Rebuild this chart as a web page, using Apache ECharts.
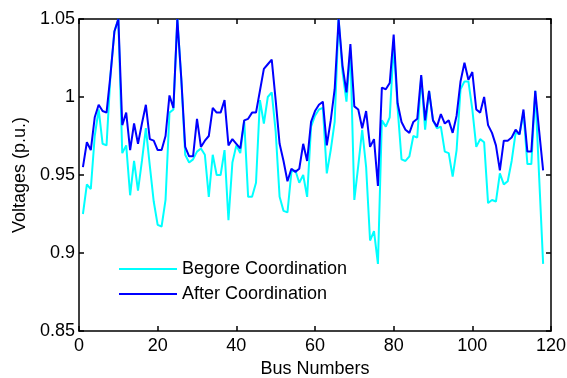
<!DOCTYPE html>
<html>
<head>
<meta charset="utf-8">
<script src="https://cdn.jsdelivr.net/npm/echarts@6/dist/echarts.min.js"></script>
<style>
  html, body { margin: 0; padding: 0; background: #fff; }
  #chart { width: 567px; height: 378px; }
</style>
</head>
<body>
<div id="chart"></div>
<script>
// Bus voltage profile of the 118-bus system, before and after coordination
const busCount = 118;
const xTicks = [0, 20, 40, 60, 80, 100, 120];
const yTicks = [0.85, 0.9, 0.95, 1, 1.05];

const beforeCoordination = [
  0.925, 0.944, 0.941, 0.975, 0.992, 0.970, 0.969, 1.014, 1.042, 1.050,
  0.964, 0.969, 0.937, 0.959, 0.940, 0.959, 0.980, 0.956, 0.933, 0.918,
  0.917, 0.934, 0.990, 0.992, 1.050, 1.012, 0.963, 0.958, 0.960, 0.965,
  0.967, 0.963, 0.936, 0.963, 0.950, 0.950, 0.966, 0.921, 0.958, 0.969,
  0.964, 0.985, 0.936, 0.936, 0.945, 0.998, 0.983, 1.000, 1.003, 0.978,
  0.936, 0.927, 0.926, 0.952, 0.953, 0.945, 0.950, 0.936, 0.981, 0.988,
  0.992, 0.993, 0.951, 0.966, 0.984, 1.050, 1.016, 0.997, 1.030, 0.934,
  0.956, 0.979, 0.955, 0.908, 0.914, 0.893, 0.985, 0.981, 0.987, 1.033,
  0.993, 0.960, 0.959, 0.962, 0.975, 0.974, 1.013, 0.979, 1.004, 0.985,
  0.980, 0.981, 0.965, 0.964, 0.949, 0.966, 1.005, 1.010, 1.010, 0.992,
  0.968, 0.973, 0.971, 0.932, 0.934, 0.933, 0.951, 0.944, 0.946, 0.959,
  0.977, 0.976, 0.990, 0.957, 0.957, 1.004, 0.948, 0.893
];

const afterCoordination = [
  0.955, 0.971, 0.966, 0.987, 0.995, 0.991, 0.990, 1.014, 1.042, 1.050,
  0.982, 0.990, 0.966, 0.983, 0.970, 0.983, 0.995, 0.973, 0.972, 0.966,
  0.966, 0.975, 1.001, 0.993, 1.050, 1.012, 0.968, 0.962, 0.962, 0.986,
  0.968, 0.972, 0.975, 0.993, 0.990, 0.990, 0.998, 0.969, 0.973, 0.970,
  0.967, 0.985, 0.986, 0.990, 0.990, 1.004, 1.018, 1.021, 1.024, 0.998,
  0.970, 0.959, 0.946, 0.954, 0.952, 0.954, 0.970, 0.959, 0.984, 0.991,
  0.995, 0.997, 0.969, 0.985, 1.005, 1.050, 1.020, 1.003, 1.034, 0.994,
  0.992, 0.980, 0.991, 0.968, 0.973, 0.943, 1.006, 1.005, 1.009, 1.040,
  0.996, 0.984, 0.979, 0.977, 0.984, 0.986, 1.014, 0.985, 1.004, 0.985,
  0.981, 0.989, 0.983, 0.985, 0.977, 0.988, 1.010, 1.022, 1.011, 1.016,
  0.992, 0.990, 1.000, 0.982, 0.977, 0.969, 0.953, 0.972, 0.972, 0.974,
  0.979, 0.976, 0.992, 0.965, 0.965, 1.004, 0.978, 0.953
];

const seriesNames = ['Begore Coordination', 'After Coordination'];
const seriesColors = ['#00ffff', '#0000ff'];

const busNumbers = [];
for (let i = 1; i <= busCount; i++) busNumbers.push(i);

const pairs = vals => vals.map((v, i) => [busNumbers[i], v]);

const FONT = '"Liberation Sans", Arial, sans-serif';
const AXIS_COLOR = '#000';

const chart = echarts.init(document.getElementById('chart'), null, { renderer: 'canvas' });

const xBase = {
  type: 'value', min: xTicks[0], max: xTicks[xTicks.length - 1], interval: 20,
  axisLine: { show: true, onZero: false, lineStyle: { color: AXIS_COLOR, width: 1.5 } },
  axisTick: { show: true, inside: true, length: 5, lineStyle: { color: AXIS_COLOR, width: 1.5 } },
  splitLine: { show: false }
};
const yBase = {
  type: 'value', min: yTicks[0], max: yTicks[yTicks.length - 1], interval: 0.05,
  axisLine: { show: true, onZero: false, lineStyle: { color: AXIS_COLOR, width: 1.5 } },
  axisTick: { show: true, inside: true, length: 5, lineStyle: { color: AXIS_COLOR, width: 1.5 } },
  splitLine: { show: false }
};

chart.setOption({
  animation: false,
  backgroundColor: '#fff',
  grid: {
    left: 79, top: 19, right: 16, bottom: 47,
    containLabel: false, outerBoundsMode: 'none'
  },
  legend: {
    orient: 'vertical',
    left: 119,
    top: 260,
    padding: 0,
    itemWidth: 58,
    itemHeight: 2,
    itemGap: 7,
    icon: 'rect',
    data: seriesNames,
    textStyle: { fontFamily: FONT, fontSize: 18, color: '#000', lineHeight: 18 }
  },
  xAxis: [
    Object.assign({}, xBase, {
      position: 'bottom',
      name: 'Bus Numbers',
      nameLocation: 'middle',
      nameGap: 29,
      nameTextStyle: { fontFamily: FONT, fontSize: 18, color: '#000' },
      axisLabel: { show: true, margin: 6, fontFamily: FONT, fontSize: 18, color: '#000' }
    }),
    Object.assign({}, xBase, { position: 'top', axisLabel: { show: false } })
  ],
  yAxis: [
    Object.assign({}, yBase, {
      position: 'left',
      name: 'Voltages (p.u.)',
      nameLocation: 'middle',
      nameGap: 45,
      nameTextStyle: { fontFamily: FONT, fontSize: 18, color: '#000' },
      axisLabel: {
        show: true, margin: 4, fontFamily: FONT, fontSize: 18, color: '#000',
        formatter: v => String(parseFloat(v.toFixed(2)))
      }
    }),
    Object.assign({}, yBase, { position: 'right', axisLabel: { show: false } })
  ],
  series: [
    {
      name: seriesNames[0], type: 'line', data: pairs(beforeCoordination),
      xAxisIndex: 0, yAxisIndex: 0,
      showSymbol: false, symbol: 'none', clip: true,
      color: seriesColors[0],
      lineStyle: { color: seriesColors[0], width: 2 }
    },
    {
      name: seriesNames[1], type: 'line', data: pairs(afterCoordination),
      xAxisIndex: 0, yAxisIndex: 0,
      showSymbol: false, symbol: 'none', clip: true,
      color: seriesColors[1],
      lineStyle: { color: seriesColors[1], width: 2 }
    }
  ]
});
</script>
</body>
</html>
